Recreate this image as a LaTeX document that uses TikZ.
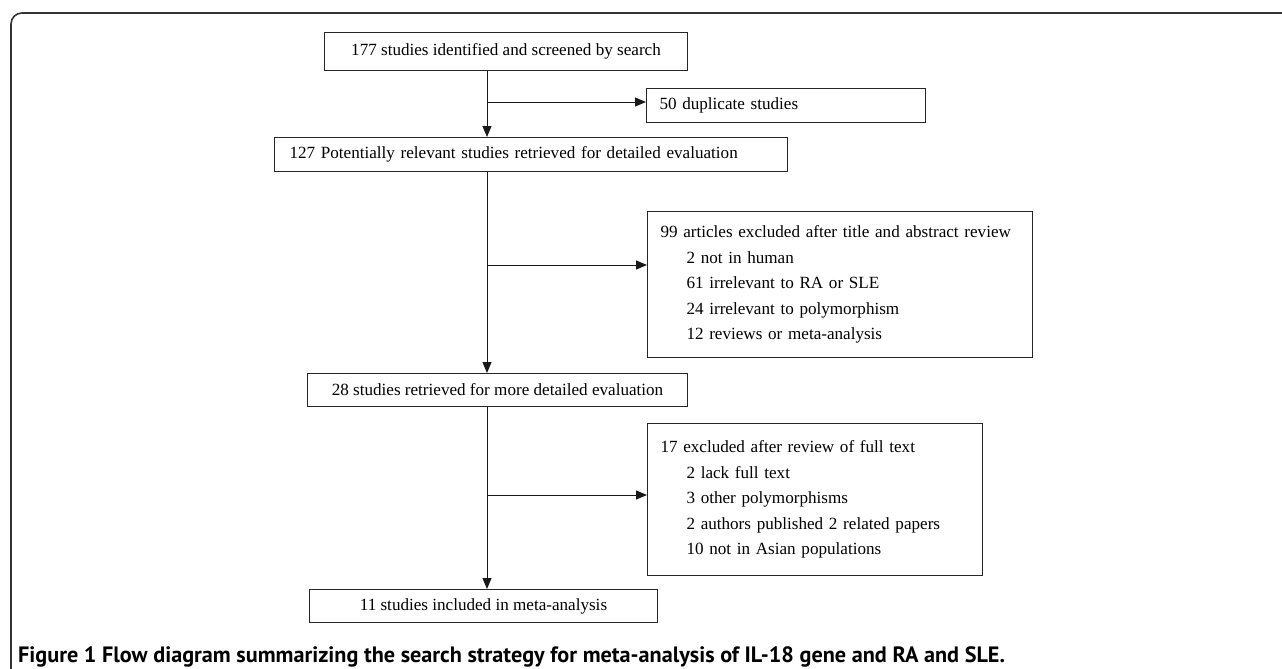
\documentclass[tikz,border=0pt]{standalone}
\usepackage{fontspec}
\setmainfont{Liberation Serif}
\newfontfamily\capfont{PT Sans}
\usetikzlibrary{arrows.meta}
\tikzset{
  box/.style={draw=black!85, line width=1pt, inner ysep=0pt, font=\fontsize{17.1}{25.6}\selectfont, anchor=north west},
  lbox/.style={box, align=left},
  cbox/.style={box, align=center, inner xsep=0pt},
  arr/.style={draw=black!90, line width=1pt, -{Triangle[length=11pt,width=9pt]}},
  frame/.style={draw=black!80, line width=1.6pt, rounded corners=11pt},
  captext/.style={font=\capfont\bfseries\fontsize{22.2}{26}\selectfont, anchor=base west, inner sep=0pt}
}
\begin{document}
\begin{tikzpicture}[x=1pt,y=-1pt]
\useasboundingbox (0,0) rectangle (1282,669);
\draw[frame] (11,680) -- (11,13) -- (1300,13);

\node[cbox, minimum width=363pt, minimum height=38pt] (b1) at (324,32) {177 studies identified and screened by search};
\node[lbox, text width=253pt, inner xsep=13pt, minimum height=34pt] (b2) at (646,88) {50 duplicate studies};
\node[lbox, text width=483pt, inner xsep=15pt, minimum height=34pt] (b3) at (274,137) {127 Potentially relevant studies retrieved for detailed evaluation};
\node[lbox, text width=359pt, inner xsep=13pt, minimum height=146pt] (b4) at (647,211) {99 articles excluded after title and abstract review\\
\hspace*{26pt}2 not in human\\
\hspace*{26pt}61 irrelevant to RA or SLE\\
\hspace*{26pt}24 irrelevant to polymorphism\\
\hspace*{26pt}12 reviews or meta-analysis};
\node[cbox, minimum width=380pt, minimum height=33pt] (b5) at (307,373) {28 studies retrieved for more detailed evaluation};
\node[lbox, text width=309pt, inner xsep=13pt, minimum height=152pt] (b6) at (647,423) {17 excluded after review of full text\\
\hspace*{26pt}2 lack full text\\
\hspace*{26pt}3 other polymorphisms\\
\hspace*{26pt}2 authors published 2 related papers\\
\hspace*{26pt}10 not in Asian populations};
\node[cbox, minimum width=348pt, minimum height=33pt] (b7) at (309,589) {11 studies included in meta-analysis};

\coordinate (sp) at (487,0);
\coordinate (j1) at (487,102);
\coordinate (j2) at (487,265);
\coordinate (j3) at (487,495);

\draw[arr] (b1.south -| sp) -- (b3.north -| sp);
\draw[arr] (b3.south -| sp) -- (b5.north -| sp);
\draw[arr] (b5.south -| sp) -- (b7.north -| sp);
\draw[arr] (j1) -- (j1 -| b2.west);
\draw[arr] (j2) -- (j2 -| b4.west);
\draw[arr] (j3) -- (j3 -| b6.west);

\node[captext] (caption) at (18,662) {Figure 1 Flow diagram summarizing the search strategy for meta-analysis of IL-18 gene and RA and SLE.};
\end{tikzpicture}
\end{document}
